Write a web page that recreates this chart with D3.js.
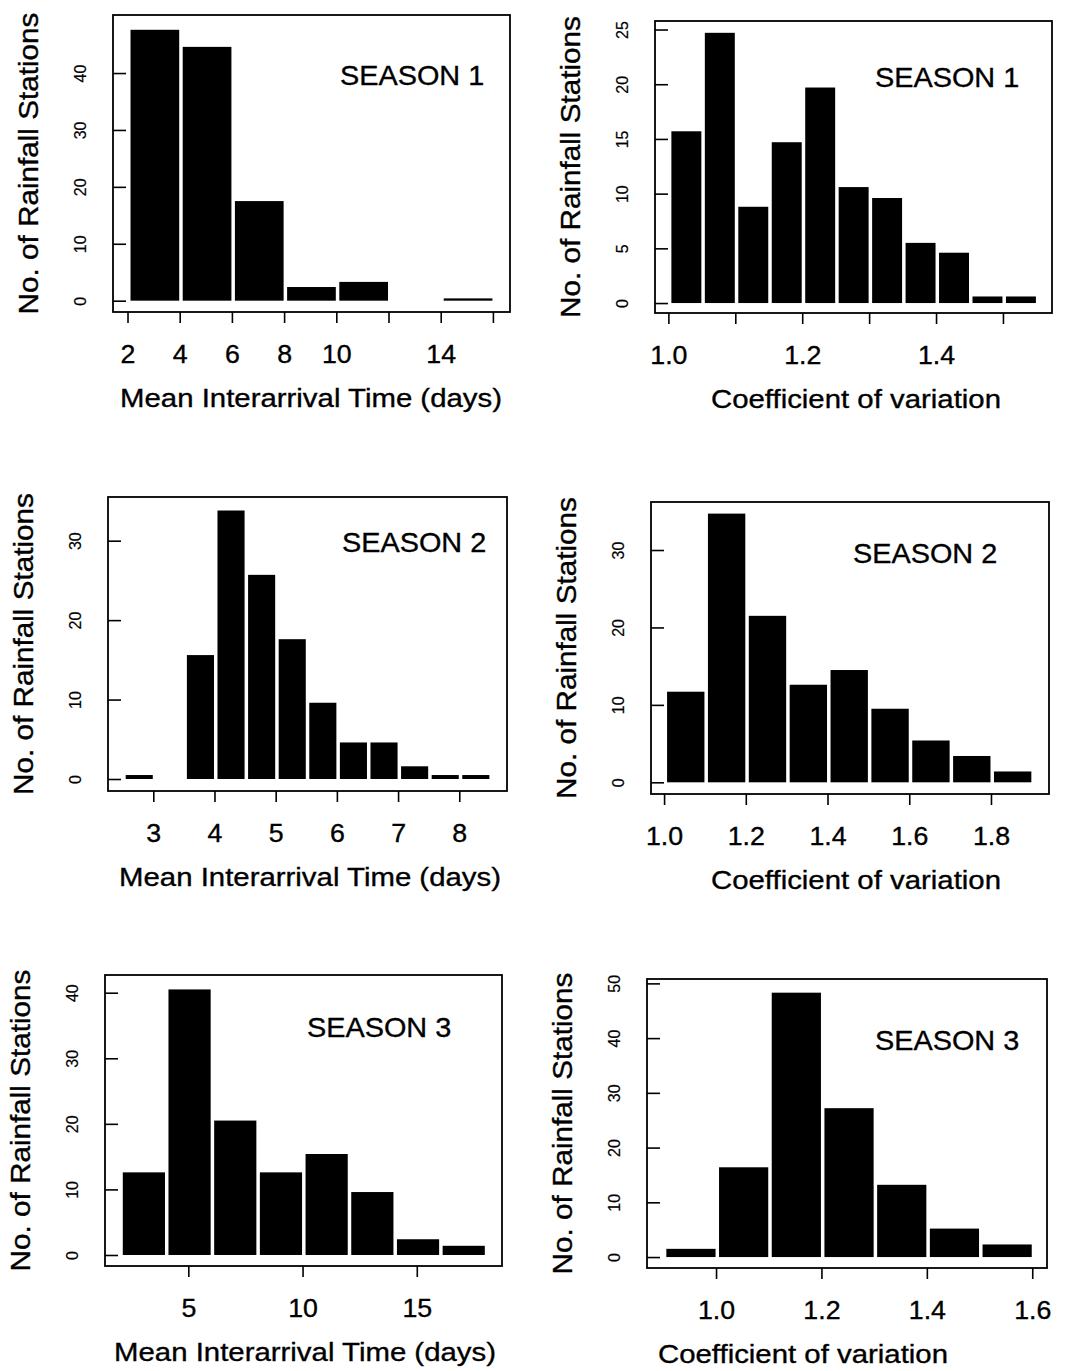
<!DOCTYPE html>
<html>
<head>
<meta charset="utf-8">
<script src="https://cdnjs.cloudflare.com/ajax/libs/d3/7.8.5/d3.min.js"></script>
<style>
body { margin: 0; background: #fff; }
text { font-family: "Liberation Sans", Arial, Helvetica, sans-serif; fill: #000; stroke: #000; stroke-width: 0.35px; }
</style>
</head>
<body>
<div id="chart"></div>
<script>
// histogram bin edges and station counts
var s1MeanEdges = [2, 4, 6, 8, 10, 12, 14, 16];
var s1MeanCounts = [47.6, 44.6, 17.5, 2.4, 3.3, 0, 0.4];

var s1CvEdges = [1.0, 1.05, 1.1, 1.15, 1.2, 1.25, 1.3, 1.35, 1.4, 1.45, 1.5, 1.55];
var s1CvCounts = [15.7, 24.7, 8.8, 14.7, 19.7, 10.6, 9.6, 5.5, 4.6, 0.6, 0.6];

var s2MeanEdges = [2.5, 3, 3.5, 4, 4.5, 5, 5.5, 6, 6.5, 7, 7.5, 8, 8.5];
var s2MeanCounts = [0.5, 0, 15.6, 33.8, 25.7, 17.6, 9.6, 4.6, 4.6, 1.6, 0.5, 0.5];

var s2CvEdges = [1.0, 1.1, 1.2, 1.3, 1.4, 1.5, 1.6, 1.7, 1.8, 1.9];
var s2CvCounts = [11.7, 34.7, 21.5, 12.6, 14.5, 9.5, 5.4, 3.4, 1.4];

var s3MeanEdges = [2, 4, 6, 8, 10, 12, 14, 16, 18];
var s3MeanCounts = [12.6, 40.5, 20.5, 12.6, 15.4, 9.6, 2.4, 1.4];

var s3CvEdges = [0.9, 1.0, 1.1, 1.2, 1.3, 1.4, 1.5, 1.6];
var s3CvCounts = [1.5, 16.4, 48.3, 27.2, 13.2, 5.2, 2.3];

// ticks and tick labels
var s1MeanXTicks = [2, 4, 6, 8, 10, 12, 14, 16];
var s1MeanXLabels = [2, 4, 6, 8, 10, 14];
var s1MeanYTicks = [0, 10, 20, 30, 40];

var s1CvXTicks = [1.0, 1.1, 1.2, 1.3, 1.4, 1.5];
var s1CvXLabels = [1.0, 1.2, 1.4];
var s1CvYTicks = [0, 5, 10, 15, 20, 25];

var s2MeanXTicks = [3, 4, 5, 6, 7, 8];
var s2MeanYTicks = [0, 10, 20, 30];

var s2CvXTicks = [1.0, 1.2, 1.4, 1.6, 1.8];
var s2CvYTicks = [0, 10, 20, 30];

var s3MeanXTicks = [5, 10, 15];
var s3MeanYTicks = [0, 10, 20, 30, 40];

var s3CvXTicks = [1.0, 1.2, 1.4, 1.6];
var s3CvYTicks = [0, 10, 20, 30, 40, 50];

var yTitle = "No. of Rainfall Stations";
var meanTitle = "Mean Interarrival Time (days)";
var cvTitle = "Coefficient of variation";

var intFmt = d3.format("d");
var oneFmt = d3.format(".1f");

// layout of each panel (plot box in pixels, axis domains at the box edges)
var panels = [
    {edges: s1MeanEdges, counts: s1MeanCounts, box: [113, 15, 510, 312],
     xDomain: [1.444, 16.655], yDomain: [-1.99, 50.2],
     xTicks: s1MeanXTicks, xLabels: s1MeanXLabels, yTicks: s1MeanYTicks, fmt: intFmt,
     xTitle: meanTitle, titleX: 311, season: "SEASON 1", seasonPos: [340, 85]},
    {edges: s1CvEdges, counts: s1CvCounts, box: [655, 21, 1052, 313],
     xDomain: [0.980, 1.5733], yDomain: [-0.91, 25.78],
     xTicks: s1CvXTicks, xLabels: s1CvXLabels, yTicks: s1CvYTicks, fmt: oneFmt,
     xTitle: cvTitle, titleX: 856, season: "SEASON 1", seasonPos: [875, 87]},
    {edges: s2MeanEdges, counts: s2MeanCounts, box: [108, 497, 507, 791],
     xDomain: [2.26, 8.78], yDomain: [-1.51, 35.5],
     xTicks: s2MeanXTicks, xLabels: s2MeanXTicks, yTicks: s2MeanYTicks, fmt: intFmt,
     xTitle: meanTitle, titleX: 310, season: "SEASON 2", seasonPos: [342, 552]},
    {edges: s2CvEdges, counts: s2CvCounts, box: [651, 502, 1049, 794],
     xDomain: [0.968, 1.942], yDomain: [-1.51, 36.2],
     xTicks: s2CvXTicks, xLabels: s2CvXTicks, yTicks: s2CvYTicks, fmt: oneFmt,
     xTitle: cvTitle, titleX: 856, season: "SEASON 2", seasonPos: [853, 563]},
    {edges: s3MeanEdges, counts: s3MeanCounts, box: [105, 975, 502, 1266],
     xDomain: [1.353, 18.73], yDomain: [-1.68, 42.7],
     xTicks: s3MeanXTicks, xLabels: s3MeanXTicks, yTicks: s3MeanYTicks, fmt: intFmt,
     xTitle: meanTitle, titleX: 305, season: "SEASON 3", seasonPos: [307, 1037]},
    {edges: s3CvEdges, counts: s3CvCounts, box: [647, 979, 1047, 1268],
     xDomain: [0.869, 1.628], yDomain: [-2.0, 50.8],
     xTicks: s3CvXTicks, xLabels: s3CvXTicks, yTicks: s3CvYTicks, fmt: oneFmt,
     xTitle: cvTitle, titleX: 803, season: "SEASON 3", seasonPos: [875, 1050]}
];

var svg = d3.select("#chart")
    .append("svg")
    .attr("width", 1071)
    .attr("height", 1371)
    .style("display", "block")
    .style("background", "#fff");

panels.forEach(function(p) {
    var left = p.box[0], top = p.box[1], right = p.box[2], bottom = p.box[3];

    var x = d3.scaleLinear().domain(p.xDomain).range([left, right]);
    var y = d3.scaleLinear().domain(p.yDomain).range([bottom, top]);

    var g = svg.append("g");

    var bins = p.counts.map(function(c, i) {
        return {x0: p.edges[i], x1: p.edges[i + 1], n: c};
    }).filter(function(d) { return d.n > 0; });

    // bars
    g.selectAll("rect.bar")
        .data(bins)
        .enter()
        .append("rect")
        .attr("class", "bar")
        .attr("x", d => x(d.x0) + 3)
        .attr("width", d => x(d.x1) - x(d.x0) - 3.5)
        .attr("y", d => y(d.n))
        .attr("height", d => y(0) - y(d.n))
        .attr("fill", "#000");

    // plot box
    g.append("rect")
        .attr("x", left)
        .attr("y", top)
        .attr("width", right - left)
        .attr("height", bottom - top)
        .attr("fill", "none")
        .attr("stroke", "#000")
        .attr("stroke-width", 1.8);

    // x axis: ticks outward below the box
    var xAxis = g.append("g")
        .attr("transform", `translate(0, ${bottom})`)
        .call(d3.axisBottom(x)
            .tickValues(p.xTicks)
            .tickSize(11)
            .tickFormat(d => p.xLabels.indexOf(d) >= 0 ? p.fmt(d) : ""));
    xAxis.select(".domain").remove();
    xAxis.selectAll("line").attr("stroke", "#000").attr("stroke-width", 1.6);
    xAxis.selectAll("text")
        .attr("y", 51)
        .attr("dy", null)
        .attr("transform", "scale(1.07,1)")
        .style("font-size", "25px");

    // y axis: ticks pointing into the box, labels rotated
    var yAxis = g.append("g")
        .attr("transform", `translate(${left}, 0)`)
        .call(d3.axisLeft(y)
            .tickValues(p.yTicks)
            .tickSize(-13)
            .tickPadding(0));
    yAxis.select(".domain").remove();
    yAxis.selectAll("line").attr("stroke", "#000").attr("stroke-width", 1.6);
    yAxis.selectAll("text")
        .attr("x", 0)
        .attr("y", -27)
        .attr("dy", null)
        .attr("text-anchor", "middle")
        .attr("transform", "rotate(-90)")
        .style("font-size", "16px")
        .style("stroke-width", "0.2px");

    // axis titles
    g.append("text")
        .attr("transform", `translate(${left - 75}, ${(top + bottom) / 2}) rotate(-90) scale(1.06,1)`)
        .attr("text-anchor", "middle")
        .style("font-size", "28px")
        .text(yTitle);

    g.append("text")
        .attr("transform", `translate(${p.titleX}, ${bottom + 95}) scale(1.13,1)`)
        .attr("text-anchor", "middle")
        .style("font-size", "26px")
        .text(p.xTitle);

    // season label
    g.append("text")
        .attr("transform", `translate(${p.seasonPos[0]}, ${p.seasonPos[1]}) scale(1.03,1)`)
        .style("font-size", "28px")
        .text(p.season);
});
</script>
</body>
</html>
